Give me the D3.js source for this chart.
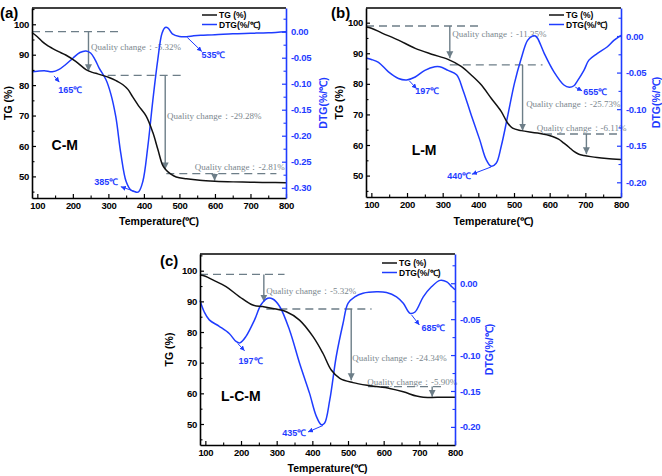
<!DOCTYPE html>
<html><head><meta charset="utf-8">
<script src="https://cdn.jsdelivr.net/npm/d3@7"></script>
<style>body{margin:0;background:#fff}</style>
</head><body>
<svg id="chart" width="662" height="476" xmlns="http://www.w3.org/2000/svg"></svg>
<script>
// ---------- data ----------
const xTicks = [100, 200, 300, 400, 500, 600, 700, 800];
const xMinor = [150, 250, 350, 450, 550, 650, 750];
const tgTicks = [50, 60, 70, 80, 90, 100];
const tgMinor = [45, 55, 65, 75, 85, 95, 105];
const dtgTicksA = [0, -0.05, -0.10, -0.15, -0.20, -0.25, -0.30];
const dtgMinorA = [0.025, -0.025, -0.075, -0.125, -0.175, -0.225, -0.275];
const dtgTicksBC = [0, -0.05, -0.10, -0.15, -0.20];
const dtgMinorBC = [0.025, -0.025, -0.075, -0.125, -0.175];

// Panel (a) C-M
const tempTgA = [85,100,114,130,142,160,180,208,237,255,270,284,300,312,326,340,355,368,385,406,425,439,453,463,475,491,520,557,600,651,700,750,800];
const tgA = [97.3,95.9,94.3,92.9,92.1,91.0,89.9,87.8,85.1,84.2,83.7,83.2,82.6,82.0,81.2,80.2,78.6,76.2,73.2,69.9,64.5,59.0,53.6,52.0,50.8,49.8,49.2,48.7,48.4,48.2,48.1,48.0,47.9];
const tempDtgA = [85,100,120,142,160,180,200,220,237,250,262,274,293,307,321,335,350,364,375,385,397,411,425,439,451,460,468,480,500,520,540,560,600,650,700,750,800];
const dtgA = [-0.077,-0.076,-0.075,-0.077,-0.073,-0.063,-0.051,-0.040,-0.037,-0.041,-0.053,-0.070,-0.092,-0.120,-0.164,-0.234,-0.288,-0.305,-0.308,-0.308,-0.288,-0.221,-0.133,-0.054,-0.003,0.008,0.007,-0.004,-0.009,-0.0095,-0.008,-0.007,-0.006,-0.004,-0.003,-0.002,0.000];

// Panel (b) L-M
const tempTgB = [85,100,130,176,223,269,315,352,380,408,436,464,482,496,520,566,608,625,640,655,668,682,696,715,733,760,800];
const tgB = [98.6,98.2,96.6,94.3,91.6,89.7,88.0,85.7,82.9,79.7,75.3,71.0,67.2,65.5,64.7,63.9,62.8,61.9,60.6,59.2,57.9,57.0,56.6,56.2,55.9,55.6,55.3];
const tempDtgB = [85,100,120,148,176,199,223,250,278,292,315,339,357,380,404,422,436,450,464,482,501,520,538,552,560,566,585,612,640,655,668,677,696,710,733,761,780,800];
const dtgB = [-0.030,-0.032,-0.036,-0.049,-0.058,-0.060,-0.056,-0.047,-0.042,-0.042,-0.047,-0.053,-0.074,-0.108,-0.142,-0.169,-0.178,-0.174,-0.151,-0.110,-0.065,-0.031,-0.006,0.000,0.000,-0.003,-0.024,-0.049,-0.067,-0.070,-0.068,-0.062,-0.047,-0.033,-0.024,-0.015,-0.006,0.001];

// Panel (c) L-C-M
const tempTgC = [85,100,121,158,196,233,261,289,327,364,402,430,453,477,514,561,617,655,692,711,750,800];
const tgC = [98.6,98.2,97.0,94.8,91.5,88.8,88.3,87.7,86.6,83.9,78.5,73.0,67.6,64.9,63.5,62.5,61.6,60.5,59.1,58.7,58.7,58.7];
const tempDtgC = [85,97,111,139,167,186,197,214,238,256,275,289,308,336,364,392,411,425,434,449,467,486,500,519,542,580,608,636,655,674,688,711,734,758,777,791,800];
const dtgC = [-0.024,-0.040,-0.051,-0.060,-0.070,-0.081,-0.083,-0.074,-0.051,-0.030,-0.021,-0.022,-0.032,-0.065,-0.111,-0.153,-0.185,-0.197,-0.195,-0.162,-0.102,-0.056,-0.028,-0.019,-0.014,-0.012,-0.013,-0.019,-0.028,-0.042,-0.040,-0.019,-0.005,0.004,0.002,-0.005,-0.009];

// Annotations: dashed levels [T1, T2, TG], arrows [T, TG1, TG2], texts [T, TG, value]
const dashA = [[85,332,97.6],[298,505,83.2],[463,773,50.9]];
const arrowA = [[244,97.6,84.6],[460,83.2,52.3],[599,50.9,48.6]];
const qTextA = [[251,91.4,"-5.32%"],[465,69.0,"-29.28%"],[543,52.0,"-2.81%"]];
const dashB = [[85,404,98.9],[320,580,86.2],[584,796,63.6]];
const arrowB = [[320,98.9,88.4],[524,86.2,64.7],[703,63.6,57.0]];
const qTextB = [[327,95.4,"-11.35%"],[534,72.4,"-25.73%"],[564,64.5,"-6.11%"]];
const dashC = [[85,322,98.8],[271,566,87.5],[556,767,62.2]];
const arrowC = [[264,98.8,89.9],[509,87.5,64.3],[736,62.2,58.9]];
const qTextC = [[271,92.3,"-5.32%"],[512,70.7,"-24.34%"],[554,62.7,"-5.90%"]];

// Peak labels: [text, T, DTG, anchor, arrowT1, arrowD1, arrowT2, arrowD2]
const peaksA = [["165℃",159,-0.117,"start",147,-0.085,162,-0.097],["535℃",562,-0.051,"start",522,-0.011,563,-0.038],["385℃",328,-0.294,"end",378,-0.308,335,-0.298]];
const peaksB = [["197℃",223,-0.079,"start",206,-0.061,227,-0.072],["440℃",380,-0.195,"end",436,-0.179,382,-0.189],["655℃",694,-0.081,"start",672,-0.070,691,-0.075]];
const peaksC = [["197℃",193,-0.113,"start",191,-0.084,210,-0.094],["435℃",383,-0.212,"end",430,-0.198,388,-0.207],["685℃",706,-0.067,"start",678,-0.044,700,-0.058]];

const seriesNames = ["TG (%)", "DTG(%/℃)"];
const qualityPrefix = "Quality change：";

// ---------- drawing ----------
const BLUE = "#1f3cff", GRAY = "#6d7e88", QTEXT = "#7b878e";
const SANS = "'Liberation Sans', Arial, sans-serif";
const SERIF = "'Liberation Serif', 'Times New Roman', serif";
const svg = d3.select("#chart");

const defs = svg.append("defs");
defs.append("marker").attr("id","gArrow").attr("markerUnits","userSpaceOnUse")
  .attr("viewBox","0 0 10 10").attr("refX",10).attr("refY",5)
  .attr("markerWidth",7).attr("markerHeight",8).attr("orient","auto")
  .append("path").attr("d","M0,0 L10,5 L0,10 z").attr("fill",GRAY);
defs.append("marker").attr("id","bArrow").attr("markerUnits","userSpaceOnUse")
  .attr("viewBox","0 0 10 10").attr("refX",10).attr("refY",5)
  .attr("markerWidth",5).attr("markerHeight",5).attr("orient","auto")
  .append("path").attr("d","M0,0 L10,5 L0,10 z").attr("fill",BLUE);

const panels = [
  {letter:"(a)", name:"C-M", left:32, right:286, top:8, bottom:198, tgDom:[42.9,105.35], dtgDom:[-0.3198,0.0456],
   tT:tempTgA, tg:tgA, tD:tempDtgA, dtg:dtgA, dTicks:dtgTicksA, dMinor:dtgMinorA,
   dash:dashA, arrows:arrowA, qText:qTextA, peaks:peaksA, namePos:[140,58.6], letterPos:[0,18],
   legend:[170,7], yTitleX:8, rTitleX:323, xTitleY:225},
  {letter:"(b)", name:"L-M", left:366, right:621, top:8, bottom:197, tgDom:[43.0,104.8], dtgDom:[-0.2201,0.0383],
   tT:tempTgB, tg:tgB, tD:tempDtgB, dtg:dtgB, dTicks:dtgTicksBC, dMinor:dtgMinorBC,
   dash:dashB, arrows:arrowB, qText:qTextB, peaks:peaksB, namePos:[213,56.8], letterPos:[331,18],
   legend:[183,7], yTitleX:339, rTitleX:656, xTitleY:225},
  {letter:"(c)", name:"L-C-M", left:200, right:455, top:254, bottom:445, tgDom:[43.15,105.45], dtgDom:[-0.2252,0.0407],
   tT:tempTgC, tg:tgC, tD:tempDtgC, dtg:dtgC, dTicks:dtgTicksBC, dMinor:dtgMinorBC,
   dash:dashC, arrows:arrowC, qText:qTextC, peaks:peaksC, namePos:[144,57.6], letterPos:[160,266],
   legend:[182,9], yTitleX:169, rTitleX:489, xTitleY:472}
];

function drawPanel(p) {
  const g = svg.append("g");
  const x = d3.scaleLinear().domain([85, 800]).range([p.left, p.right]);
  const yL = d3.scaleLinear().domain(p.tgDom).range([p.bottom, p.top]);
  const yR = d3.scaleLinear().domain(p.dtgDom).range([p.bottom, p.top]);

  // dashed level lines
  g.selectAll(".dash").data(p.dash).join("line")
    .attr("x1", d => x(d[0])).attr("x2", d => x(d[1]))
    .attr("y1", d => yL(d[2])).attr("y2", d => yL(d[2]))
    .attr("stroke", GRAY).attr("stroke-width", 1.4).attr("stroke-dasharray", "8,5");
  // vertical arrows
  g.selectAll(".varr").data(p.arrows).join("line")
    .attr("x1", d => x(d[0])).attr("x2", d => x(d[0]))
    .attr("y1", d => yL(d[1])).attr("y2", d => yL(d[2]))
    .attr("stroke", GRAY).attr("stroke-width", 1.4).attr("marker-end", "url(#gArrow)");
  // quality-change texts
  g.selectAll(".qt").data(p.qText).join("text")
    .attr("x", d => x(d[0])).attr("y", d => yL(d[1]))
    .attr("font-family", SERIF).attr("font-size", 9).attr("fill", QTEXT)
    .text(d => qualityPrefix + d[2]);

  // curves
  const tgPts = p.tT.map((t, i) => [t, p.tg[i]]);
  const dtgPts = p.tD.map((t, i) => [t, p.dtg[i]]);
  g.append("path").datum(dtgPts)
    .attr("d", d3.line().x(d => x(d[0])).y(d => yR(d[1])).curve(d3.curveCatmullRom.alpha(0.5)))
    .attr("fill", "none").attr("stroke", BLUE).attr("stroke-width", 1.5);
  g.append("path").datum(tgPts)
    .attr("d", d3.line().x(d => x(d[0])).y(d => yL(d[1])).curve(d3.curveCatmullRom.alpha(0.5)))
    .attr("fill", "none").attr("stroke", "#111").attr("stroke-width", 1.5);

  // peak labels with arrows
  g.selectAll(".parr").data(p.peaks).join("line")
    .attr("x1", d => x(d[4])).attr("y1", d => yR(d[5]))
    .attr("x2", d => x(d[6])).attr("y2", d => yR(d[7]))
    .attr("stroke", BLUE).attr("stroke-width", 1).attr("marker-end", "url(#bArrow)");
  g.selectAll(".ptxt").data(p.peaks).join("text")
    .attr("x", d => x(d[1])).attr("y", d => yR(d[2]))
    .attr("text-anchor", d => d[3])
    .attr("font-family", SANS).attr("font-weight", "bold").attr("font-size", 9).attr("fill", BLUE)
    .text(d => d[0]);

  // sample name
  g.append("text").attr("x", x(p.namePos[0])).attr("y", yL(p.namePos[1]))
    .attr("font-family", SANS).attr("font-weight", "bold").attr("font-size", 14).text(p.name);

  // axes
  const styleAxis = (sel, color) => {
    sel.selectAll("path.domain").attr("stroke", color).attr("stroke-width", 1.6);
    sel.selectAll("line").attr("stroke", color).attr("stroke-width", 1.2);
    sel.selectAll("text").attr("fill", color).attr("font-family", SANS)
      .attr("font-weight", "bold").attr("font-size", 9.5).attr("letter-spacing", "-0.3px");
  };
  const minorAxis = (sel, color) => {
    sel.select("path.domain").remove();
    sel.selectAll("line").attr("stroke", color).attr("stroke-width", 1.1);
  };
  // top border
  g.append("line").attr("x1", p.left).attr("x2", p.right).attr("y1", p.top).attr("y2", p.top)
    .attr("stroke", "#000").attr("stroke-width", 1.6);

  g.append("g").attr("transform", `translate(0,${p.bottom})`)
    .call(d3.axisBottom(x).tickValues(xMinor).tickSize(-2.5).tickFormat(""))
    .call(s => minorAxis(s, "#000"));
  g.append("g").attr("transform", `translate(0,${p.bottom})`)
    .call(d3.axisBottom(x).tickValues(xTicks).tickSize(-4).tickSizeOuter(0).tickPadding(4).tickFormat(d3.format("d")))
    .call(s => styleAxis(s, "#000"));

  g.append("g").attr("transform", `translate(${p.left},0)`)
    .call(d3.axisLeft(yL).tickValues(tgMinor.filter(v => v > p.tgDom[0] && v < p.tgDom[1])).tickSize(-2.5).tickFormat(""))
    .call(s => minorAxis(s, "#000"));
  g.append("g").attr("transform", `translate(${p.left},0)`)
    .call(d3.axisLeft(yL).tickValues(tgTicks).tickSize(-4).tickSizeOuter(0).tickPadding(3).tickFormat(d3.format("d")))
    .call(s => styleAxis(s, "#000"));

  g.append("g").attr("transform", `translate(${p.right},0)`)
    .call(d3.axisRight(yR).tickValues(p.dMinor.filter(v => v > p.dtgDom[0] && v < p.dtgDom[1])).tickSize(-2.5).tickFormat(""))
    .call(s => minorAxis(s, BLUE));
  g.append("g").attr("transform", `translate(${p.right},0)`)
    .call(d3.axisRight(yR).tickValues(p.dTicks).tickSize(-4).tickSizeOuter(0).tickPadding(5).tickFormat(v => v.toFixed(2)))
    .call(s => styleAxis(s, BLUE));

  // axis titles
  const midY = (p.top + p.bottom) / 2;
  g.append("text").attr("transform", `translate(${p.yTitleX + 4},${midY}) rotate(-90)`)
    .attr("text-anchor", "middle").attr("font-family", SANS).attr("font-weight", "bold").attr("font-size", 10.5)
    .text(seriesNames[0]);
  g.append("text").attr("transform", `translate(${p.rTitleX + 4},${midY}) rotate(-90)`)
    .attr("text-anchor", "middle").attr("font-family", SANS).attr("font-weight", "bold").attr("font-size", 10.5)
    .attr("fill", BLUE).text(seriesNames[1]);
  g.append("text").attr("x", (p.left + p.right) / 2).attr("y", p.xTitleY)
    .attr("text-anchor", "middle").attr("font-family", SANS).attr("font-weight", "bold").attr("font-size", 10.5)
    .text("Temperature(℃)");

  // panel letter
  svg.append("text").attr("x", p.letterPos[0]).attr("y", p.letterPos[1])
    .attr("font-family", SANS).attr("font-weight", "bold").attr("font-size", 15).text(p.letter);

  // legend
  const lg = g.append("g").attr("transform", `translate(${p.left + p.legend[0]},${p.top + p.legend[1]})`);
  [["#111", 0], [BLUE, 1]].forEach(([c, i]) => {
    lg.append("line").attr("x1", 0).attr("x2", 15).attr("y1", i * 9.5).attr("y2", i * 9.5)
      .attr("stroke", c).attr("stroke-width", 1.5);
    lg.append("text").attr("x", 17).attr("y", i * 9.5 + 3).attr("font-family", SANS)
      .attr("font-weight", "bold").attr("font-size", 8.5).text(seriesNames[i]);
  });
}

panels.forEach(drawPanel);
</script>
</body></html>
